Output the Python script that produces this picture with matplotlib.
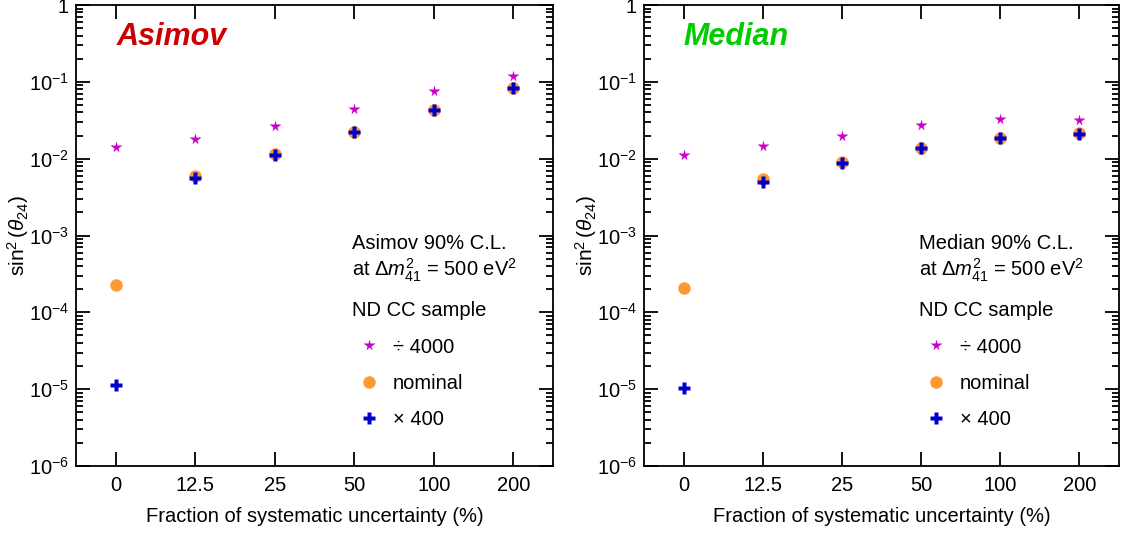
import math
import matplotlib
matplotlib.use("Agg")
import matplotlib.pyplot as plt
from matplotlib.ticker import LogLocator, FuncFormatter, NullFormatter

plt.rcParams['font.family'] = ['Liberation Sans', 'DejaVu Sans']
plt.rcParams['mathtext.fontset'] = 'custom'
plt.rcParams['mathtext.rm'] = 'Liberation Sans'
plt.rcParams['mathtext.it'] = 'Liberation Sans:italic'
plt.rcParams['mathtext.bf'] = 'Liberation Sans:bold'

# ---------- data ----------
categories = ["0", "12.5", "25", "50", "100", "200"]

asimov_div4000 = [0.0142, 0.0183, 0.0267, 0.0443, 0.0754, 0.120]
asimov_nominal = [2.25e-4, 6.0e-3, 0.0115, 0.0224, 0.0435, 0.0843]
asimov_x400 = [1.13e-5, 5.6e-3, 0.0111, 0.0220, 0.0435, 0.0825]

median_div4000 = [0.0111, 0.0145, 0.0199, 0.0278, 0.0330, 0.0320]
median_nominal = [2.06e-4, 5.45e-3, 8.98e-3, 0.0139, 0.0185, 0.0213]
median_x400 = [1.03e-5, 5.0e-3, 8.9e-3, 0.0139, 0.0184, 0.0210]

panels = [
    ("Asimov", "#cc0000", asimov_div4000, asimov_nominal, asimov_x400,
     [0.0677, 0.1257, 0.4248, 0.8649], 0.086),
    ("Median", "#00cc00", median_div4000, median_nominal, median_x400,
     [0.5735, 0.1257, 0.4230, 0.8649], 0.082),
]

FS = 14.5

fig = plt.figure(figsize=(11.23, 5.33), dpi=100)
xpos = list(range(len(categories)))


def ytick_fmt(v, pos):
    if abs(v - 1) < 1e-9:
        return "1"
    e = int(round(math.log10(v)))
    return r"$10^{%d}$" % e


for name, col, star, nom, cross, rect, nx in panels:
    ax = fig.add_axes(rect)
    ax.set_yscale("log")
    ax.set_ylim(1e-6, 1)
    ax.set_xlim(-0.5, 5.5)

    h2, = ax.plot(xpos, nom, "o", color="#ff9933", ms=9, mec="none", ls="none", label="nominal")
    h3, = ax.plot(xpos, cross, "P", color="#0000cc", ms=9, mec="none", ls="none", label=u"\u00d7 400")
    h1, = ax.plot(xpos, star, "*", color="#cc00cc", ms=8.5, mec="none", ls="none", label=u"\u00f7 4000")

    ax.set_xticks(xpos)
    ax.set_xticklabels(categories)
    ax.yaxis.set_major_locator(LogLocator(base=10, numticks=10))
    ax.yaxis.set_minor_locator(LogLocator(base=10, subs=range(2, 10), numticks=20))
    ax.yaxis.set_major_formatter(FuncFormatter(ytick_fmt))
    ax.yaxis.set_minor_formatter(NullFormatter())

    ax.tick_params(axis="both", which="both", direction="in", top=True, right=True,
                   labelsize=FS, width=1.3)
    ax.tick_params(axis="both", which="major", length=10)
    ax.tick_params(axis="x", which="major", pad=7.5)
    ax.tick_params(axis="y", which="major", pad=5)
    ax.tick_params(axis="y", which="minor", length=5)
    for s in ax.spines.values():
        s.set_linewidth(1.3)

    ax.set_xlabel("Fraction of systematic uncertainty (%)", fontsize=FS)
    ax.xaxis.set_label_coords(0.5, -0.088)
    ax.set_ylabel(r"$\sin^2(\theta_{24})$", fontsize=15)
    ax.yaxis.set_label_coords(-0.094, 0.5)

    ax.text(nx, 0.93, name, transform=ax.transAxes, color=col, fontsize=22,
            fontweight="bold", fontstyle="italic", va="center", ha="left")

    ax.text(0.578, 0.503, name + " 90% C.L.\nat $\\Delta m^2_{41}$ = 500 eV$^2$",
            transform=ax.transAxes, fontsize=FS, va="top", ha="left", linespacing=1.2)

    leg = ax.legend(handles=[h1, h2, h3], title="ND CC sample", loc="upper left",
                    bbox_to_anchor=(0.578, 0.357), frameon=False, fontsize=FS,
                    title_fontsize=FS, borderpad=0, borderaxespad=0,
                    handlelength=1.7, handletextpad=0.35, labelspacing=0.85,
                    alignment="left")

fig.savefig("out.png", dpi=100)
